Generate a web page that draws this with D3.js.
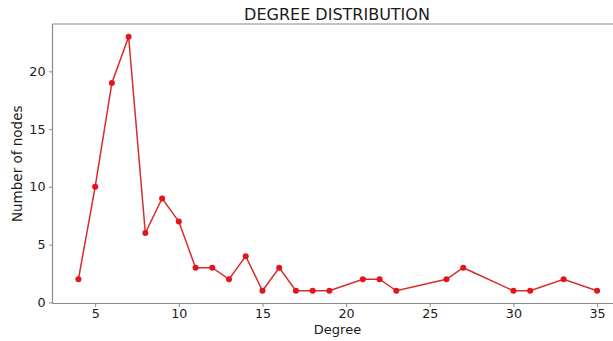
<!DOCTYPE html>
<html><head><meta charset="utf-8">
<script src="https://cdn.jsdelivr.net/npm/d3@7"></script>
<style>body{margin:0;background:#fff}</style>
</head><body>
<svg id="c" width="613" height="341"></svg>
<script>
const degrees = [4,5,6,7,8,9,10,11,12,13,14,15,16,17,18,19,21,22,23,26,27,30,31,33,35];
const counts  = [2,10,19,23,6,9,7,3,3,2,4,1,3,1,1,1,2,2,1,2,3,1,1,2,1];
const xTicks = [5,10,15,20,25,30,35];
const yTicks = [0,5,10,15,20];

(function(){
const svg = d3.select("#c");
const mLeft = 52.5, mTop = 24, mBottom = 303.5;
const x = d3.scaleLinear().domain([2.45, 36.55]).range([mLeft, 623]);
const y = d3.scaleLinear().domain([-0.1, 24.1]).range([mBottom, mTop]);
const font = "DejaVu Sans, sans-serif";
const axisColor = "#8a8a8a";

const gx = svg.append("g").attr("transform", `translate(0,${mBottom})`)
  .call(d3.axisBottom(x).tickValues(xTicks).tickSize(3.5).tickPadding(1.5));
const gy = svg.append("g").attr("transform", `translate(${mLeft},0)`)
  .call(d3.axisLeft(y).tickValues(yTicks).tickSize(3.5).tickPadding(3.5));
[gx, gy].forEach(g => {
  g.select(".domain").remove();
  g.selectAll("line").attr("stroke", axisColor);
  g.selectAll("text").attr("font-family", font).attr("font-size", 12.7).attr("fill", "#1a1a1a");
});
svg.append("line").attr("x1", mLeft).attr("x2", mLeft).attr("y1", mTop).attr("y2", mBottom).attr("stroke", axisColor).attr("stroke-width", 1.2);
svg.append("line").attr("x1", mLeft).attr("x2", 613).attr("y1", mBottom).attr("y2", mBottom).attr("stroke", axisColor).attr("stroke-width", 1.2);
svg.append("line").attr("x1", mLeft).attr("x2", 613).attr("y1", mTop).attr("y2", mTop).attr("stroke", axisColor).attr("stroke-width", 1.2);

const data = degrees.map((d, i) => ({d, c: counts[i]}));
svg.append("path").datum(data)
  .attr("d", d3.line().x(p => x(p.d)).y(p => y(p.c)))
  .attr("fill", "none").attr("stroke", "#d92b2b").attr("stroke-width", 1.5);
svg.selectAll("circle.pt").data(data).join("circle")
  .attr("cx", p => x(p.d)).attr("cy", p => y(p.c)).attr("r", 3)
  .attr("fill", "#e3141a");

svg.append("text").attr("x", 337).attr("y", 20).attr("text-anchor", "middle")
  .attr("font-family", font).attr("font-size", 16).attr("fill", "#1a1a1a").text("DEGREE DISTRIBUTION");
svg.append("text").attr("x", 337.5).attr("y", 334).attr("text-anchor", "middle")
  .attr("font-family", font).attr("font-size", 13).attr("fill", "#1a1a1a").text("Degree");
svg.append("text").attr("transform", `translate(22,${(mTop+mBottom)/2}) rotate(-90)`).attr("text-anchor", "middle")
  .attr("font-family", font).attr("font-size", 13.5).attr("fill", "#1a1a1a").text("Number of nodes");
})();
</script>
</body></html>
